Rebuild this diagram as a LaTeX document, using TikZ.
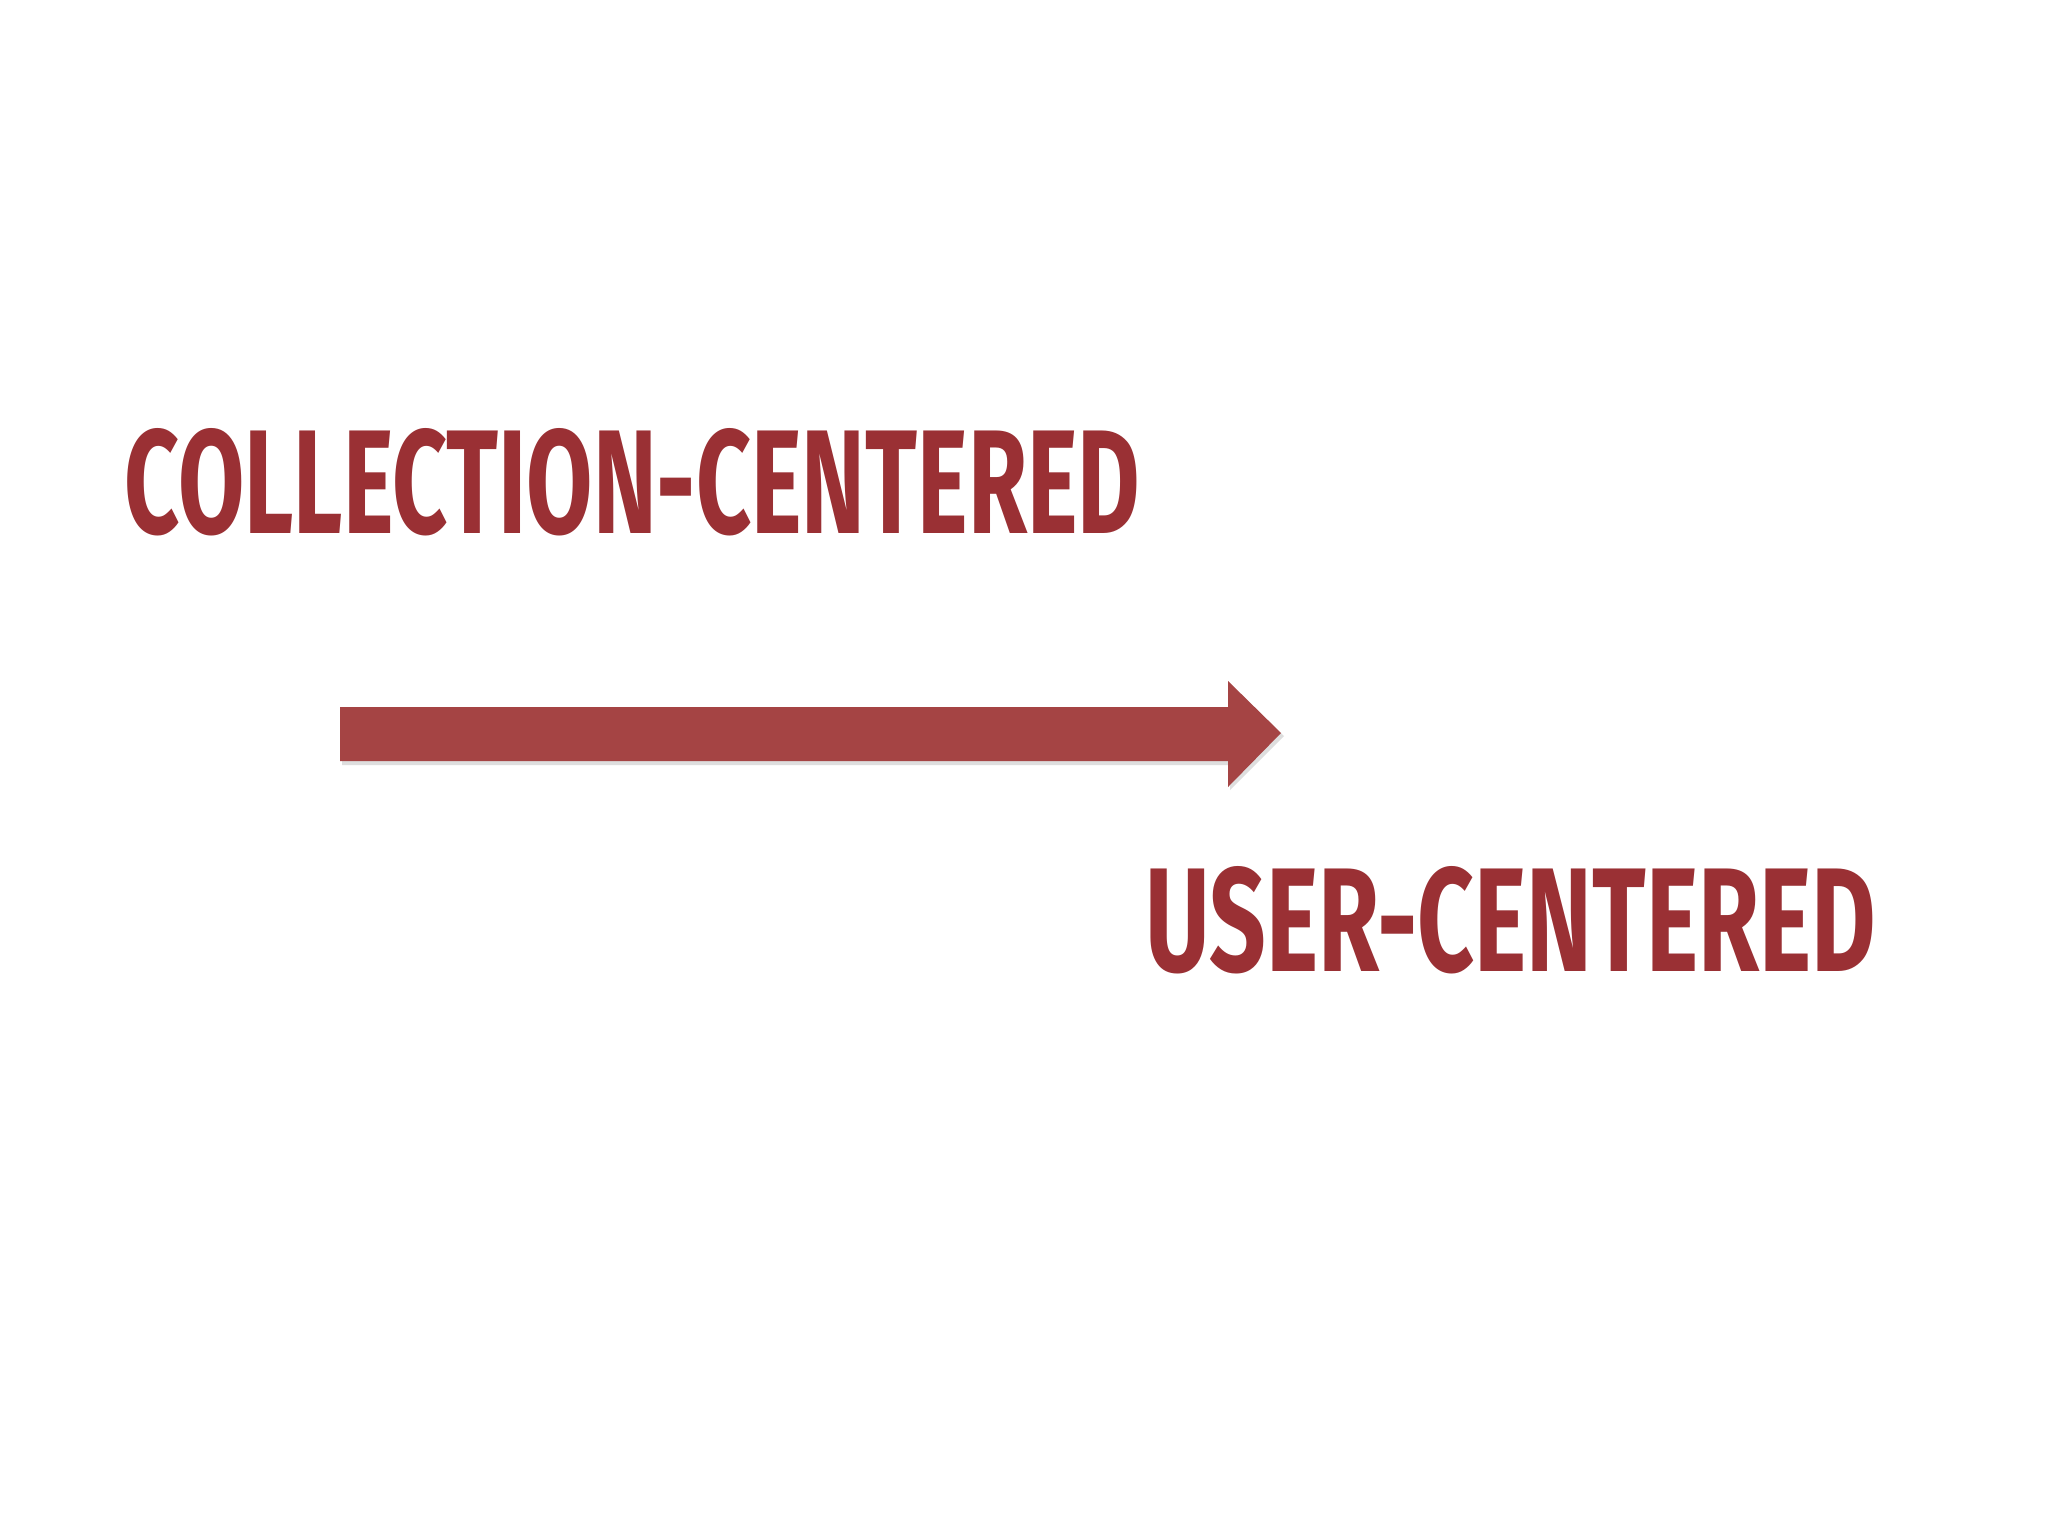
\documentclass[tikz,border=0pt]{standalone}
\usepackage{fontspec}
\setmainfont{Fira Sans}
\usepackage{graphicx}
\definecolor{arrowred}{HTML}{A54444}
\definecolor{textred}{HTML}{9A3034}
\begin{document}
\begin{tikzpicture}[x=0.01cm,y=-0.01cm,
  hand/.style={inner sep=0pt, text=textred, font=\bfseries}]
\useasboundingbox[fill=white] (0,0) rectangle (2048,1536);
\node[hand, anchor=north west] (coll) at (124,428)
  {\resizebox{10.15cm}{1.05cm}{COLLECTION-CENTERED}};
\node[hand, anchor=north west] (user) at (1145,866)
  {\resizebox{7.3cm}{1.05cm}{USER-CENTERED}};
\fill[black!25, opacity=0.5] (342,710) -- (1230,710) -- (1230,684) -- (1284,736) -- (1230,790) -- (1230,765) -- (342,765) -- cycle;
\fill[arrowred] (340,707) -- (1228,707) -- (1228,681) -- (1281,733) -- (1228,787) -- (1228,761) -- (340,761) -- cycle;
\end{tikzpicture}
\end{document}
